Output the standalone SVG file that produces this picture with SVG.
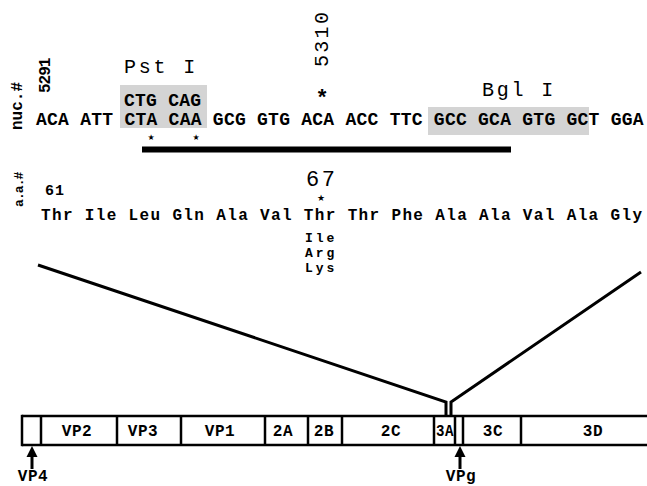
<svg xmlns="http://www.w3.org/2000/svg" width="647" height="486" viewBox="0 0 647 486">
<style>
  .mono { font-family: "Liberation Mono", "Courier New", monospace; fill: #000; }
  .seq { font-family: "Liberation Mono", "Courier New", monospace; font-weight: bold; font-size: 18px; letter-spacing: 0.25px; fill: #000; }
  .aa { font-family: "Liberation Mono", "Courier New", monospace; font-weight: bold; font-size: 16px; letter-spacing: 1.35px; fill: #000; }
  .alt { font-family: "Liberation Mono", "Courier New", monospace; font-weight: bold; font-size: 13px; letter-spacing: 3px; fill: #000; }
  .enz { font-family: "Liberation Mono", "Courier New", monospace; font-size: 20px; letter-spacing: 2.8px; fill: #000; }
  .lab { font-family: "Liberation Mono", "Courier New", monospace; font-weight: bold; font-size: 16px; letter-spacing: 0.6px; fill: #000; text-anchor: middle; }
  .star { font-family: "DejaVu Sans", sans-serif; fill: #000; text-anchor: middle; }
  .shade { fill: #d4d4d4; }
  .ln { fill: none; stroke: #000; stroke-width: 3; stroke-linejoin: miter; }
  .seg { stroke: #000; stroke-width: 2.5; }
</style>

<g id="shading">
  <rect class="shade" x="120" y="85" width="87" height="43"/>
  <rect class="shade" x="428" y="107" width="161" height="28"/>
</g>

<g id="labels-axis">
  <text class="mono" font-weight="bold" font-size="16" transform="translate(22,130) rotate(-90)">nuc.#</text>
  <text class="mono" font-weight="bold" font-size="16" letter-spacing="-1" transform="translate(50,93) rotate(-90)">5291</text>
  <text class="mono" font-weight="bold" font-size="13" letter-spacing="-0.9" transform="translate(23,207) rotate(-90)">a.a.#</text>
</g>

<g id="enzymes">
  <text class="enz" x="124" y="73">Pst I</text>
  <text class="enz" x="482" y="96">Bgl I</text>
</g>

<g id="pos5310">
  <text class="mono" font-size="20" letter-spacing="2.3" transform="translate(328,67) rotate(-90)">5310</text>
  <text class="mono" font-size="22" font-weight="bold" x="315.5" y="105">*</text>
</g>

<g id="nucleotides">
  <text class="seq" x="124" y="106">CTG CAG</text>
  <text class="seq" x="36" y="125">ACA ATT CTA CAA GCG GTG ACA ACC TTC GCC GCA GTG GCT GGA</text>
  <text class="star" font-size="8" x="151" y="140">★</text>
  <text class="star" font-size="8" x="196" y="140">★</text>
  <rect x="142" y="146.5" width="369" height="6" fill="#000"/>
</g>

<g id="aminoacids">
  <text class="mono" font-weight="bold" font-size="15" letter-spacing="1" x="45" y="195">61</text>
  <text class="mono" font-size="22" letter-spacing="2.5" x="306" y="186">67</text>
  <text class="star" font-size="9" x="321" y="201">★</text>
  <text class="aa" x="41" y="220">Thr Ile Leu Gln Ala Val Thr Thr Phe Ala Ala Val Ala Gly</text>
  <text class="alt" x="305" y="242">Ile</text>
  <text class="alt" x="305" y="257">Arg</text>
  <text class="alt" x="305" y="272">Lys</text>
</g>

<g id="connectors">
  <polyline class="ln" points="38,265 446,402 446,416"/>
  <polyline class="ln" points="641,272 451,402 451,416"/>
</g>

<g id="genome">
  <line class="seg" x1="22" y1="416" x2="647" y2="416"/>
  <line class="seg" x1="22" y1="445" x2="647" y2="445"/>
  <line class="seg" x1="22" y1="414.8" x2="22" y2="446.2"/>
  <line class="seg" x1="41" y1="416" x2="41" y2="445"/>
  <line class="seg" x1="117" y1="416" x2="117" y2="445"/>
  <line class="seg" x1="181" y1="416" x2="181" y2="445"/>
  <line class="seg" x1="265" y1="416" x2="265" y2="445"/>
  <line class="seg" x1="308" y1="416" x2="308" y2="445"/>
  <line class="seg" x1="342" y1="416" x2="342" y2="445"/>
  <line class="seg" x1="434" y1="416" x2="434" y2="445"/>
  <line class="seg" x1="455" y1="416" x2="455" y2="445"/>
  <line class="seg" x1="463" y1="416" x2="463" y2="445"/>
  <line class="seg" x1="521" y1="416" x2="521" y2="445"/>
  <text class="lab" x="77" y="436">VP2</text>
  <text class="lab" x="143" y="436">VP3</text>
  <text class="lab" x="220" y="436">VP1</text>
  <text class="lab" x="283" y="436">2A</text>
  <text class="lab" x="324" y="436">2B</text>
  <text class="lab" x="391" y="436">2C</text>
  <text class="lab" x="445" y="436" letter-spacing="0" textLength="18" lengthAdjust="spacingAndGlyphs">3A</text>
  <text class="lab" x="493" y="436">3C</text>
  <text class="lab" x="593" y="436">3D</text>
</g>

<g id="vp4">
  <polygon points="32,446 26.5,457 37.5,457" fill="#000"/>
  <line x1="32" y1="456" x2="32" y2="469" stroke="#000" stroke-width="3"/>
  <text class="lab" font-size="15" x="33" y="481">VP4</text>
</g>

<g id="vpg">
  <polygon points="460,446 454.5,457 465.5,457" fill="#000"/>
  <line x1="460" y1="456" x2="460" y2="469" stroke="#000" stroke-width="3"/>
  <text class="lab" font-size="15" x="461" y="481">VPg</text>
</g>
</svg>
